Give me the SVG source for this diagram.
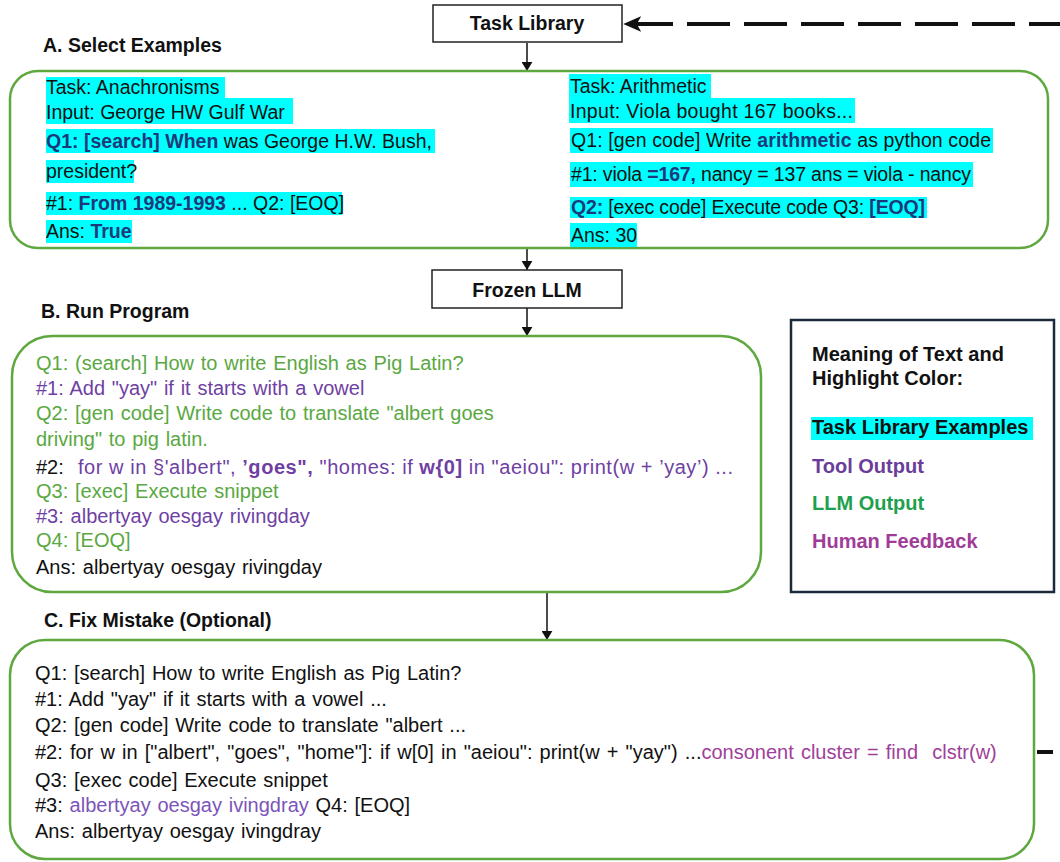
<svg xmlns="http://www.w3.org/2000/svg" width="1060" height="862" viewBox="0 0 1060 862">
<defs>
<style>
text{font-family:"Liberation Sans",Arial,sans-serif;font-size:20px;fill:#111}
.a{font-size:19.5px}
.b{font-weight:bold}
.title{font-weight:bold;font-size:19.5px;fill:#111}
.nv{font-weight:bold;fill:#1c3a7a}
.hl{fill:#00ffff}
.gbox{fill:#fff;stroke:#5fa83f;stroke-width:2.5}
.pbox{fill:#fff;stroke:#222;stroke-width:1.5}
.grn{fill:#5aa842}
.pur{fill:#6f3fa3}
.pur2{fill:#7b55b8}
.mag{fill:#a0409a}
.ws{word-spacing:1.2px}
.ws2{word-spacing:1.6px}
.conn{stroke:#111;stroke-width:1.5;fill:none}
</style>
<marker id="arr" viewBox="0 0 10 12" refX="10" refY="6" markerWidth="9" markerHeight="11" markerUnits="userSpaceOnUse" orient="auto">
<path d="M0,0 L10,6 L0,12 z" fill="#111"/>
</marker>
<marker id="arrBig" viewBox="0 -7 16 14" refX="10" refY="0" markerWidth="18" markerHeight="16" markerUnits="userSpaceOnUse" orient="auto-start-reverse">
<path d="M16,0 L0,-7 L4,0 L0,7 z" fill="#111"/>
</marker>
</defs>
<rect width="1060" height="862" fill="#fff"/>

<g id="connectors">
<line class="conn" x1="527" y1="43" x2="527" y2="71" marker-end="url(#arr)"/>
<line class="conn" x1="527" y1="71" x2="527" y2="270" marker-end="url(#arr)"/>
<line class="conn" x1="527" y1="308" x2="527" y2="336" marker-end="url(#arr)"/>
<line class="conn" x1="547" y1="592" x2="547" y2="640" marker-end="url(#arr)"/>
<path d="M630,24 L1060,24" stroke="#111" stroke-width="4" fill="none" stroke-dasharray="43 14" marker-start="url(#arrBig)"/>
<line x1="1037" y1="752" x2="1053" y2="752" stroke="#111" stroke-width="4"/>
</g>

<g id="task-library">
<rect class="pbox" x="433" y="5" width="189" height="37"/>
<text class="title" x="527" y="30" text-anchor="middle">Task Library</text>
</g>

<g id="section-a">
<text class="title" x="43" y="52">A. Select Examples</text>
<rect class="gbox" x="10" y="71" width="1038" height="177" rx="28"/>
<rect class="hl" x="46" y="77" width="179" height="21"/>
<rect class="hl" x="46" y="98" width="247" height="26"/>
<rect class="hl" x="46" y="129" width="389" height="24"/>
<rect class="hl" x="46" y="160" width="88" height="23"/>
<rect class="hl" x="46" y="192" width="296" height="23"/>
<rect class="hl" x="46" y="220" width="86" height="23"/>
<text class="a" x="46" y="94">Task: Anachronisms</text>
<text class="a" x="46" y="119">Input: George HW Gulf War</text>
<text class="a" x="46" y="148" textLength="386" lengthAdjust="spacing"><tspan class="nv">Q1: [search] When</tspan> was George H.W. Bush,</text>
<text class="a" x="46" y="178">president?</text>
<text class="a" x="46" y="210">#1: <tspan class="nv">From 1989-1993</tspan> ... Q2: [EOQ]</text>
<text class="a" x="46" y="238">Ans: <tspan class="nv">True</tspan></text>

<rect class="hl" x="569" y="74" width="142" height="24"/>
<rect class="hl" x="569" y="98" width="286" height="25"/>
<rect class="hl" x="570" y="128" width="423" height="25"/>
<rect class="hl" x="570" y="162" width="403" height="25"/>
<rect class="hl" x="570" y="197" width="357" height="21"/>
<rect class="hl" x="570" y="223" width="67" height="24"/>
<text class="a" x="570" y="93">Task: Arithmetic</text>
<text class="a" x="570" y="118" textLength="283" lengthAdjust="spacing">Input: Viola bought 167 books...</text>
<text class="a" x="571" y="147" textLength="420" lengthAdjust="spacing">Q1: [gen code] Write <tspan class="nv">arithmetic</tspan> as python code</text>
<text class="a" x="571" y="181" textLength="400" lengthAdjust="spacing">#1: viola <tspan class="nv">=167,</tspan> nancy = 137 ans = viola - nancy</text>
<text class="a" x="571" y="214" textLength="354" lengthAdjust="spacing"><tspan class="nv">Q2:</tspan> [exec code] Execute code Q3: <tspan class="nv">[EOQ]</tspan></text>
<text class="a" x="571" y="242">Ans: 30</text>
</g>

<g id="frozen-llm">
<rect class="pbox" x="432" y="270" width="190" height="38"/>
<text class="title" x="527" y="297" text-anchor="middle">Frozen LLM</text>
</g>

<g id="section-b">
<text class="title" x="41" y="318">B. Run Program</text>
<rect class="gbox" x="12" y="336" width="749" height="256" rx="40"/>
<text class="grn ws" x="36" y="370">Q1: (search] How to write English as Pig Latin?</text>
<text class="pur ws" x="36" y="395">#1: Add "yay" if it starts with a vowel</text>
<text class="grn ws" x="36" y="420">Q2: [gen code] Write code to translate "albert goes</text>
<text class="grn ws" x="36" y="446">driving" to pig latin.</text>
<text class="ws" x="36" y="474">#2:</text>
<text class="pur" x="78" y="474" textLength="655" lengthAdjust="spacing">for w in §'albert", <tspan class="b">’goes",</tspan> "homes: if <tspan class="b">w{0]</tspan> in "aeiou": print(w + ’yay’) ...</text>
<text class="grn ws" x="36" y="498">Q3: [exec] Execute snippet</text>
<text class="pur ws" x="36" y="523">#3: albertyay oesgay rivingday</text>
<text class="grn ws" x="36" y="547">Q4: [EOQ]</text>
<text class="ws" x="36" y="574">Ans: albertyay oesgay rivingday</text>
</g>

<g id="legend">
<rect x="791" y="320" width="263" height="272" fill="#fff" stroke="#1b2b3b" stroke-width="2.5"/>
<text class="b" x="812" y="361">Meaning of Text and</text>
<text class="b" x="812" y="385">Highlight Color:</text>
<rect class="hl" x="811" y="417" width="222" height="23"/>
<text class="b" x="812" y="434">Task Library Examples</text>
<text class="b" x="812" y="473" style="fill:#6a3d9a">Tool Output</text>
<text class="b" x="812" y="510" style="fill:#1ea04e">LLM Output</text>
<text class="b" x="812" y="548" style="fill:#a03c98">Human Feedback</text>
</g>

<g id="section-c">
<text class="title" x="44" y="627">C. Fix Mistake (Optional)</text>
<rect class="gbox" x="10" y="640" width="1024" height="219" rx="35"/>
<text class="ws" x="35" y="680">Q1: [search] How to write English as Pig Latin?</text>
<text class="ws" x="35" y="706">#1: Add "yay" if it starts with a vowel ...</text>
<text class="ws" x="35" y="732">Q2: [gen code] Write code to translate "albert ...</text>
<text class="ws2" x="35" y="759">#2: for w in ["albert", "goes", "home"]: if w[0] in "aeiou": print(w + "yay") ...<tspan class="mag">consonent cluster = find &#160;clstr(w)</tspan></text>
<text class="ws" x="35" y="787">Q3: [exec code] Execute snippet</text>
<text class="ws" x="35" y="812">#3: <tspan class="pur2">albertyay oesgay ivingdray</tspan> Q4: [EOQ]</text>
<text class="ws" x="35" y="838">Ans: albertyay oesgay ivingdray</text>
</g>
</svg>
